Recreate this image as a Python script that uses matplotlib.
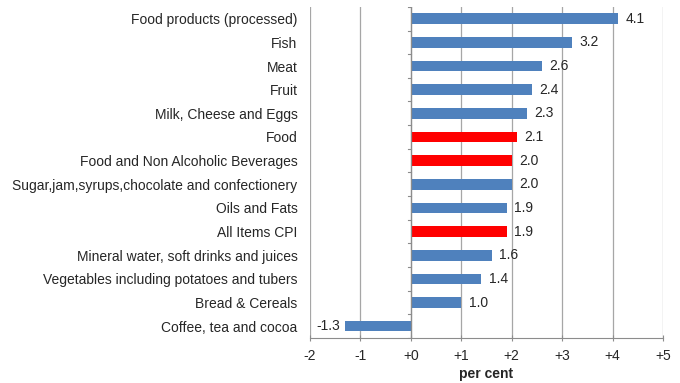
import numpy as np
import matplotlib.pyplot as plt

plt.rcParams['font.family'] = ['Liberation Sans', 'DejaVu Sans']

categories = ["Food products (processed)", "Fish", "Meat", "Fruit",
              "Milk, Cheese and Eggs", "Food", "Food and Non Alcoholic Beverages",
              "Sugar,jam,syrups,chocolate and confectionery", "Oils and Fats",
              "All Items CPI", "Mineral water, soft drinks and juices",
              "Vegetables including potatoes and tubers", "Bread & Cereals",
              "Coffee, tea and cocoa"]
values = [4.1, 3.2, 2.6, 2.4, 2.3, 2.1, 2.0, 2.0, 1.9, 1.9, 1.6, 1.4, 1.0, -1.3]
highlight = ["Food", "Food and Non Alcoholic Beverages", "All Items CPI"]
xticks = [-2, -1, 0, 1, 2, 3, 4, 5]
xticklabels = ["-2", "-1", "+0", "+1", "+2", "+3", "+4", "+5"]

colors = ["#FF0000" if c in highlight else "#4F81BD" for c in categories]
y = np.arange(len(categories))

fig = plt.figure(figsize=(6.8, 3.83), dpi=100)
ax = fig.add_axes([0.456, 0.1175, 0.519, 0.8645])

ax.barh(y, values, height=0.45, color=colors, zorder=3)
ax.set_ylim(len(categories) - 0.5, -0.5)
ax.set_xlim(-2, 5)

for xi in xticks:
    ax.axvline(xi, color="#A6A6A6", lw=0.9, zorder=1)
ax.axvline(0, color="#8C8C8C", lw=0.9, zorder=4)

for yi, v in zip(y, values):
    if v >= 0:
        ax.text(v + 0.15, yi, f"{v:.1f}", va="center", ha="left", fontsize=10, color="#262626")
    else:
        ax.text(v - 0.1, yi, f"{v:.1f}", va="center", ha="right", fontsize=10, color="#262626")

ax.set_xticks(xticks)
ax.set_xticklabels(xticklabels, fontsize=10, color="#262626")
ax.set_yticks(y)
ax.set_yticklabels(categories, fontsize=10, color="#262626")
ax.tick_params(axis="y", length=0, pad=9)
ax.tick_params(axis="x", length=4, color="#8C8C8C", direction="inout", pad=6)

# small category separator ticks left of the zero line
for b in np.arange(-0.5, len(categories), 1.0):
    ax.plot([-0.05, 0], [b, b], color="#8C8C8C", lw=0.8, zorder=4)

for s in ["top", "right", "left"]:
    ax.spines[s].set_visible(False)
ax.spines["bottom"].set_color("#8C8C8C")

ax.set_xlabel("per cent", fontsize=10, fontweight="bold", color="#262626", labelpad=3)

fig.savefig("out.png", dpi=100)
